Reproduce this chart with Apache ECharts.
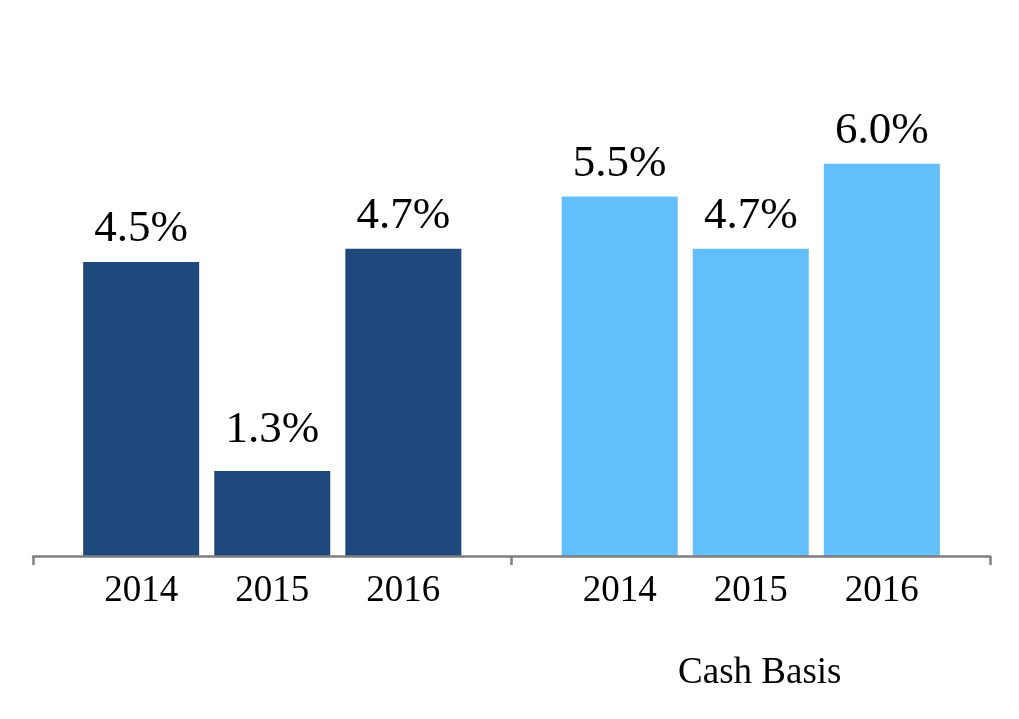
<!DOCTYPE html>
<html>
<head>
<meta charset="utf-8">
<script src="https://cdn.jsdelivr.net/npm/echarts@6/dist/echarts.min.js"></script>
<style>
html,body{margin:0;padding:0;background:#fff;}
#main{width:1019px;height:719px;}
</style>
</head>
<body>
<div id="main"></div>
<script>
const categories = ['', 'Cash Basis'];
const years = ['2014', '2015', '2016'];
const leftValues = [4.5, 1.3, 4.7];
const cashValues = [5.5, 4.7, 6.0];
const groupColors = ['#1f497d', '#63befc'];

const FONT = '"Liberation Serif", "Times New Roman", serif';
const chart = echarts.init(document.getElementById('main'));

const barCommon = {
  type: 'bar',
  barWidth: 116,
  barGap: '13%'
};

const series = [];
years.forEach((y, i) => {
  const data = [leftValues[i], cashValues[i]].map((v, j) => {
    const item = { value: v };
    if (j === 0 && i === 1) item.label = { distance: 18 };
    return item;
  });
  series.push(Object.assign({}, barCommon, {
    name: y,
    xAxisIndex: 0,
    data: data,
    itemStyle: { color: p => groupColors[p.dataIndex] },
    label: {
      show: true,
      position: 'top',
      distance: 10,
      fontFamily: FONT,
      fontSize: 45,
      color: '#000',
      formatter: p => p.value.toFixed(1) + '%'
    },
    z: 2
  }));
});
years.forEach((y, i) => {
  series.push(Object.assign({}, barCommon, {
    name: y + ' label',
    xAxisIndex: 1,
    data: [leftValues[i], cashValues[i]],
    itemStyle: { color: 'rgba(0,0,0,0)' },
    label: {
      show: true,
      position: 'bottom',
      distance: 17,
      fontFamily: FONT,
      fontSize: 37,
      color: '#000',
      formatter: () => y
    },
    silent: true,
    z: 1
  }));
});

chart.setOption({
  animation: false,
  grid: { left: 33, right: 29, top: 98.5, bottom: 163 },
  xAxis: [
    {
      type: 'category',
      data: categories,
      z: 5,
      axisLine: { show: true, lineStyle: { color: '#7f7f7f', width: 2.5 } },
      axisTick: { show: true, length: 9, lineStyle: { color: '#7f7f7f', width: 2.5 } },
      axisLabel: { margin: 99, padding: [0, 0, 0, 18], fontFamily: FONT, fontSize: 37, color: '#000' }
    },
    {
      type: 'category',
      data: categories,
      show: false
    }
  ],
  yAxis: { type: 'value', min: 0, max: 7, show: false, splitLine: { show: false } },
  series: series
});
</script>
</body>
</html>
